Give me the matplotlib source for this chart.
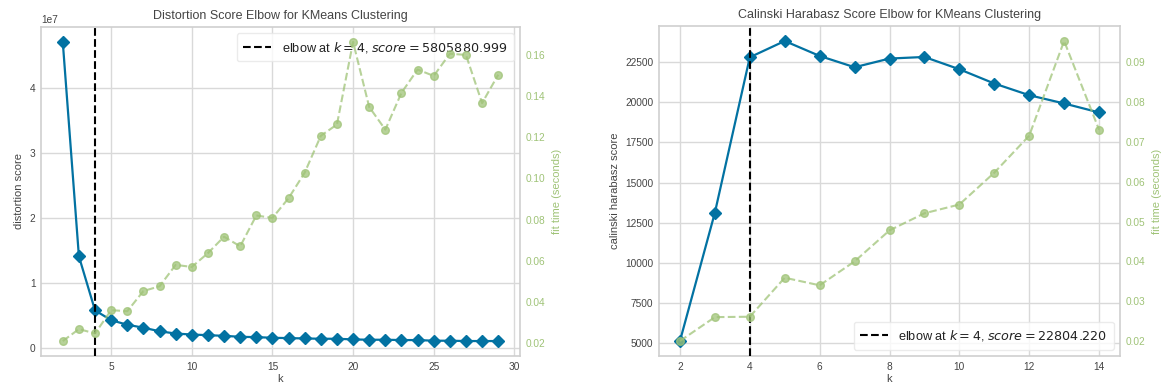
import matplotlib
matplotlib.use("Agg")
import matplotlib.pyplot as plt

# ---------------- data ----------------
k_left = list(range(2, 30))
distortion = [47.0e6, 14.1e6, 5805880.999, 4.3e6, 3.6e6, 3.15e6, 2.6e6, 2.25e6,
              2.1e6, 2.0e6, 1.9e6, 1.75e6, 1.7e6, 1.6e6, 1.55e6, 1.5e6, 1.45e6,
              1.45e6, 1.35e6, 1.3e6, 1.3e6, 1.25e6, 1.25e6, 1.15e6, 1.15e6,
              1.1e6, 1.1e6, 1.1e6]
fit_left = [0.021, 0.0268, 0.0247, 0.036, 0.0355, 0.0453, 0.0476, 0.058, 0.057,
            0.0637, 0.0717, 0.067, 0.082, 0.0808, 0.0904, 0.1028, 0.1207, 0.1262,
            0.1663, 0.1347, 0.1237, 0.1416, 0.1529, 0.1498, 0.1606, 0.1600,
            0.1366, 0.1504]
elbow_left = 4
elbow_left_score = 5805880.999

k_right = list(range(2, 15))
calinski = [5124, 13122, 22804.220, 23818, 22886, 22183, 22724, 22823, 22058,
            21169, 20441, 19925, 19366]
fit_right = [0.0200, 0.0260, 0.0261, 0.0359, 0.0340, 0.0400, 0.0478, 0.0521,
             0.0543, 0.0623, 0.0716, 0.0954, 0.0731]
elbow_right = 4
elbow_right_score = 22804.220

# ---------------- style ----------------
plt.rcParams['font.family'] = ['Liberation Sans', 'DejaVu Sans']
plt.rcParams['mathtext.fontset'] = 'dejavusans'
BLUE = '#0272a2'
GREEN = '#9fc377'
TXT = '#444444'
GRID = '#d9d9d9'
EDGE = '#cfcfcf'

fig = plt.figure(figsize=(11.64, 3.89), dpi=100)


def panel(rect, ks, scores, fits, elbow, escore, title, ylabel, legend_loc):
    ax = fig.add_axes(rect)
    ax.set_facecolor('white')
    ax.grid(True, color=GRID, linewidth=1.0)
    ax.set_axisbelow(True)
    for s in ax.spines.values():
        s.set_color(EDGE)
        s.set_linewidth(1.2)
    ax.plot(ks, scores, marker='D', color=BLUE, lw=1.6, markersize=6, zorder=3)
    ax.axvline(elbow, color='k', linestyle='--', lw=1.5,
               label="elbow at $k=%d$, $score=%0.3f$" % (elbow, escore), zorder=4)
    ax.set_title(title, fontsize=9, color=TXT)
    ax.set_xlabel('k', fontsize=8, color=TXT, labelpad=2)
    ax.set_ylabel(ylabel, fontsize=8, color=TXT, labelpad=4)
    ax.tick_params(length=0, labelsize=7.3, labelcolor=TXT, pad=4)
    ax.yaxis.get_offset_text().set_fontsize(7.3)
    ax.yaxis.get_offset_text().set_color(TXT)
    leg = ax.legend(loc=legend_loc, fontsize=9.2, frameon=True, fancybox=True,
                    framealpha=0.8, borderpad=0.5, handlelength=2.2)
    leg.get_frame().set_edgecolor('#e6e6e6')
    leg.get_frame().set_facecolor('white')
    for t in leg.get_texts():
        t.set_color('#222222')

    ax2 = ax.twinx()
    ax2.plot(ks, fits, color=GREEN, marker='o', linestyle='--', alpha=0.75,
             lw=1.5, markersize=5.5)
    ax2.grid(False)
    for s in ax2.spines.values():
        s.set_visible(False)
    ax2.set_ylabel('fit time (seconds)', color=GREEN, fontsize=8, labelpad=5)
    ax2.tick_params(axis='y', colors=GREEN, length=0, labelsize=7.3, pad=4)
    return ax, ax2


panel([41 / 1164, 33 / 389, 479 / 1164, 329 / 389], k_left, distortion, fit_left,
      elbow_left, elbow_left_score,
      'Distortion Score Elbow for KMeans Clustering', 'distortion score',
      'upper right')
panel([659 / 1164, 33 / 389, 461 / 1164, 330 / 389], k_right, calinski, fit_right,
      elbow_right, elbow_right_score,
      'Calinski Harabasz Score Elbow for KMeans Clustering',
      'calinski harabasz score', 'lower right')

fig.savefig('out.png', dpi=100, facecolor='white')
